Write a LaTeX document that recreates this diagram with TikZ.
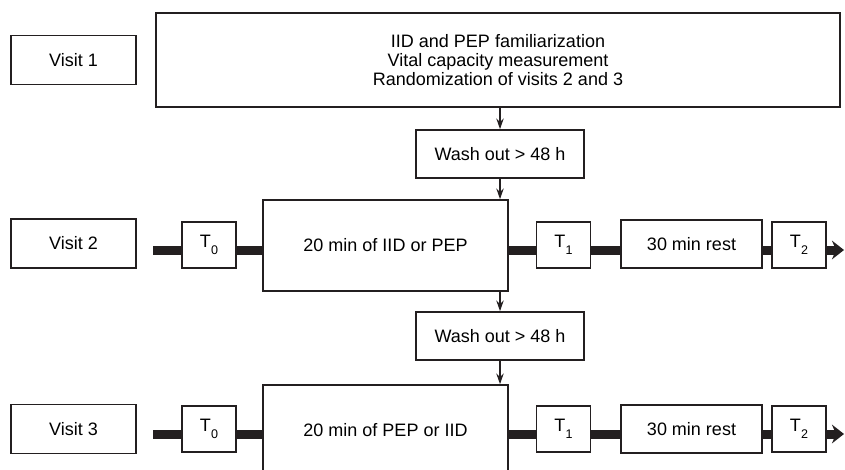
\documentclass[tikz,border=0pt]{standalone}
\usepackage{fontspec}
\setmainfont{Liberation Sans}
\usetikzlibrary{arrows.meta}
\definecolor{ink}{HTML}{231F20}
\newcommand{\tsub}[1]{T\kern0.3pt\raisebox{-5pt}{\fontsize{9.4}{9.4}\selectfont #1}}

\begin{document}
\begin{tikzpicture}[x=0.75pt,y=-0.75pt,draw=ink,line width=1.2pt,
                    font=\fontsize{13.5}{14}\selectfont]
  \tikzstyle{box}=[rectangle, draw=ink, line width=1.2pt, inner sep=0pt, align=center]
  \tikzstyle{visit}=[box, minimum width=93.75pt, minimum height=36.75pt]
  \tikzstyle{tbox}=[box, minimum width=40.5pt, minimum height=34.5pt]
  \tikzstyle{rest}=[box, minimum width=105.75pt, minimum height=36pt]
  \tikzstyle{session}=[box, minimum width=183.75pt, minimum height=68.25pt]
  \tikzstyle{washout}=[box, minimum width=126pt, minimum height=36pt]
  \tikzstyle{bar}=[draw=ink, line width=6.75pt]
  \tikzstyle{bararrow}=[bar, -{Stealth[length=9pt,width=14pt]}]
  \tikzstyle{flow}=[draw=ink, line width=1.2pt, -{Stealth[length=8pt,width=5.5pt]}]

  \useasboundingbox (0,0) rectangle (845,470);
  \clip (0,0) rectangle (845,470);

  % visit 1
  \node[visit]   (v1)  at (73.5,60)   {Visit 1};
  \node[box, minimum width=513pt, minimum height=70.5pt] (plan) at (498,60)
        {IID and PEP familiarization\\Vital capacity measurement\\Randomization of visits 2 and 3};
  \node[washout] (wo1) at (500,154)   {Wash out > 48 h};

  % visit 2
  \node[visit]   (v2)  at (73.5,243.5) {Visit 2};
  \node[tbox]    (t02) at (209,245)    {\tsub{0}};
  \node[session] (m2)  at (385.5,245.5) {20 min of IID or PEP};
  \node[tbox]    (t12) at (563.5,245)  {\tsub{1}};
  \node[rest]    (r2)  at (691.5,244)  {30 min rest};
  \node[tbox]    (t22) at (799,245)    {\tsub{2}};
  \node[washout] (wo2) at (500,336)    {Wash out > 48 h};

  % visit 3
  \node[visit]   (v3)  at (73.5,429)   {Visit 3};
  \node[tbox]    (t03) at (209,429)    {\tsub{0}};
  \node[session] (m3)  at (385.5,430.5) {20 min of PEP or IID};
  \node[tbox]    (t13) at (563.5,429)  {\tsub{1}};
  \node[rest]    (r3)  at (691.5,429)  {30 min rest};
  \node[tbox]    (t23) at (799,429)    {\tsub{2}};

  \coordinate (b2) at (153,250);
  \coordinate (e2) at (844,250);
  \coordinate (b3) at (153,434);
  \coordinate (e3) at (844,434);

  % timelines
  \draw[bar] (b2) -- (b2 -| t02.west);
  \draw[bar] (b2 -| t02.east) -- (b2 -| m2.west);
  \draw[bar] (b2 -| m2.east) -- (b2 -| t12.west);
  \draw[bar] (b2 -| t12.east) -- (b2 -| r2.west);
  \draw[bar] (b2 -| r2.east) -- (b2 -| t22.west);
  \draw[bararrow] (b2 -| t22.east) -- (e2);

  \draw[bar] (b3) -- (b3 -| t03.west);
  \draw[bar] (b3 -| t03.east) -- (b3 -| m3.west);
  \draw[bar] (b3 -| m3.east) -- (b3 -| t13.west);
  \draw[bar] (b3 -| t13.east) -- (b3 -| r3.west);
  \draw[bar] (b3 -| r3.east) -- (b3 -| t23.west);
  \draw[bararrow] (b3 -| t23.east) -- (e3);

  % wash out steps
  \draw[flow] (plan.south -| wo1.north) -- (wo1.north);
  \draw[flow] (wo1.south) -- (wo1.south |- m2.north);
  \draw[flow] (m2.south -| wo2.north) -- (wo2.north);
  \draw[flow] (wo2.south) -- (wo2.south |- m3.north);
\end{tikzpicture}
\end{document}
